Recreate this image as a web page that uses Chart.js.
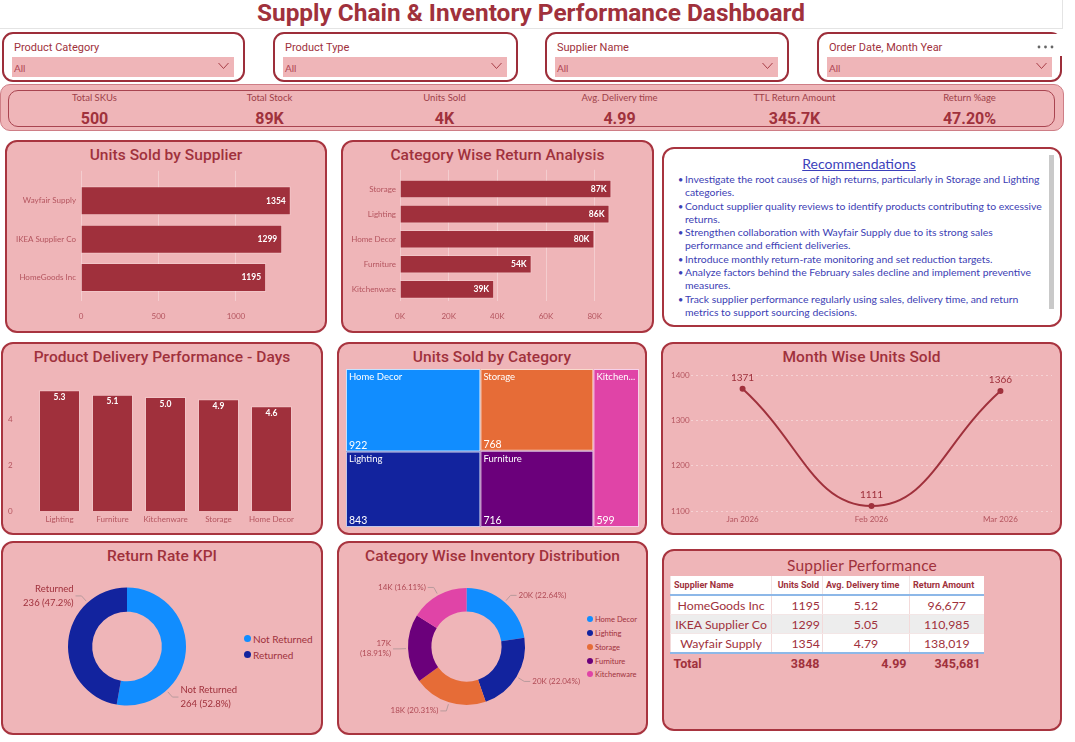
<!DOCTYPE html>
<html><head><meta charset="utf-8">
<script src="https://cdn.jsdelivr.net/npm/chart.js@4.4.1/dist/chart.umd.min.js"></script>
<style>
body{margin:0;width:1075px;height:742px;background:#fff;position:relative;overflow:hidden;font-family:Lato,"Liberation Sans",sans-serif;}
.abs{position:absolute;box-sizing:border-box;}
.panel{position:absolute;box-sizing:border-box;background:#EFB5B8;border:2px solid #A8343F;border-radius:12px;}
.ptitle{position:absolute;left:0;right:0;top:3px;text-align:center;font-family:Roboto,sans-serif;font-weight:500;color:#A0313C;font-size:15.5px;line-height:20px;letter-spacing:0.05px;white-space:nowrap;}
.filter{position:absolute;box-sizing:border-box;top:32px;height:50px;border:2px solid #9D2E3A;border-radius:11px;background:#fff;}
.flabel{position:absolute;left:10px;top:7px;font-family:Roboto,sans-serif;font-size:11px;line-height:14px;color:#A0313C;white-space:nowrap;}
.fdrop{position:absolute;left:8px;right:9px;top:23px;height:20px;background:#EFB5B8;}
.fdrop span{position:absolute;left:2px;top:4px;font-size:10px;line-height:14px;color:#B04553;}
.fdrop svg{position:absolute;right:5px;top:5px;}
.kpi{position:absolute;top:0;width:175px;text-align:center;}
.klab{position:absolute;left:0;right:0;top:2px;font-size:9.5px;line-height:12px;color:#9E3F49;}
.kval{position:absolute;left:0;right:0;top:19px;font-family:Roboto,sans-serif;font-weight:700;font-size:16px;line-height:20px;color:#A0313C;}
.rec{position:absolute;left:678px;top:173px;font-size:10.4px;line-height:13.3px;color:#3C40B4;white-space:nowrap;}
.rec div{height:13.3px;padding-left:7px;position:relative;}
.rec div.b::before{content:"\2022";position:absolute;left:0;top:0;font-size:9px;}
table.sp{position:absolute;left:670px;top:576px;width:313px;border-collapse:collapse;table-layout:fixed;}
table.sp th{height:18px;background:#fff;font-family:Roboto,sans-serif;font-weight:700;font-size:9px;color:#A0313C;padding:0 3px;border-left:1px solid #f0e4e4;border-bottom:2px solid #8DB8E8;white-space:nowrap;overflow:hidden;}
table.sp td{height:18px;font-size:12.3px;color:#A0313C;padding:0 2px;border-left:1px solid #f3dada;border-bottom:1px solid #f3e6e6;white-space:nowrap;overflow:hidden;}
table.sp tr.last td{border-bottom:2px solid #8DB8E8;}
table.sp tr.tot td{background:transparent;border:none;font-family:Roboto,sans-serif;font-weight:700;font-size:12.5px;height:18px;padding:0 3px;}
.leg{position:absolute;white-space:nowrap;color:#A0313C;}
.leg i{display:inline-block;border-radius:50%;vertical-align:middle;}
</style></head>
<body>
<div class="abs" style="left:0;top:0;width:1063px;height:29px;border-right:1px solid #e4e4e4;border-bottom:1px solid #e4e4e4;"></div>
<div class="abs" id="mainTitle" style="left:0;top:-1px;width:1062px;text-align:center;font-family:Roboto,sans-serif;font-weight:700;font-size:24.4px;line-height:28px;color:#A0313C;white-space:nowrap;">Supply Chain &amp; Inventory Performance Dashboard</div>
<div id="filters"></div>
<div class="abs" style="left:1032px;top:34px;width:30px;height:22px;background:#fff;"></div>
<svg class="abs" style="left:1034px;top:42px" width="24" height="10"><circle cx="5" cy="5" r="1.4" fill="#666"/><circle cx="11.5" cy="5" r="1.4" fill="#666"/><circle cx="18" cy="5" r="1.4" fill="#666"/></svg>

<div class="abs" style="left:0;top:84px;width:1064px;height:47px;background:#EFB5B8;border:1px solid #CE7E86;border-radius:10px;"></div>
<div class="abs" style="left:8px;top:90px;width:1047px;height:37px;border:1.5px solid #A94450;border-radius:10px;"></div>
<div class="abs" id="kpis" style="left:7px;top:90px;width:1050px;height:37px;"></div>

<div class="panel" style="left:5px;top:140px;width:322px;height:193px;"><div class="ptitle">Units Sold by Supplier</div></div>
<div class="panel" style="left:341px;top:140px;width:313px;height:193px;"><div class="ptitle">Category Wise Return Analysis</div></div>
<div class="panel" style="left:662px;top:147px;width:400px;height:180px;background:#fff;">
  <div style="position:absolute;left:0;right:6px;top:6px;text-align:center;font-size:14px;line-height:18px;color:#3C3FBB;text-decoration:underline;">Recommendations</div>
</div>
<div class="abs" style="left:1049px;top:155px;width:5px;height:154px;background:#C9C9C9;"></div>
<div class="rec" id="rec"></div>

<div class="panel" style="left:1px;top:342px;width:322px;height:193px;"><div class="ptitle">Product Delivery Performance - Days</div></div>
<div class="panel" style="left:337px;top:342px;width:310px;height:193px;"><div class="ptitle">Units Sold by Category</div></div>
<div class="panel" style="left:661px;top:342px;width:401px;height:193px;"><div class="ptitle">Month Wise Units Sold</div></div>

<div class="panel" style="left:1px;top:541px;width:322px;height:194px;"><div class="ptitle">Return Rate KPI</div></div>
<div class="panel" style="left:337px;top:541px;width:311px;height:194px;"><div class="ptitle">Category Wise Inventory Distribution</div></div>
<div class="panel" style="left:662px;top:549px;width:400px;height:182px;"><div class="ptitle" style="font-family:Lato,sans-serif;font-weight:400;font-size:15.5px;top:4px;letter-spacing:0.2px;">Supplier Performance</div></div>
<table class="sp" id="spTable"></table>
<div id="legKpi"></div>
<div id="legInv"></div>

<script>
// ================= DATA =================
const filterLabels = ['Product Category', 'Product Type', 'Supplier Name', 'Order Date, Month Year'];
const filterValue = 'All';
const kpiLabels = ['Total SKUs', 'Total Stock', 'Units Sold', 'Avg. Delivery time', 'TTL Return Amount', 'Return %age'];
const kpiValues = ['500', '89K', '4K', '4.99', '345.7K', '47.20%'];

const suppliers = ['Wayfair Supply', 'IKEA Supplier Co', 'HomeGoods Inc'];
const supplierUnits = [1354, 1299, 1195];

const returnCategories = ['Storage', 'Lighting', 'Home Decor', 'Furniture', 'Kitchenware'];
const returnAmounts = [86900, 86100, 79900, 54100, 38700];

const deliveryCategories = ['Lighting', 'Furniture', 'Kitchenware', 'Storage', 'Home Decor'];
const deliveryDays = [5.3, 5.1, 5.0, 4.9, 4.6];

const unitCategories = ['Home Decor', 'Lighting', 'Storage', 'Furniture', 'Kitchenware'];
const unitsByCategory = [922, 843, 768, 716, 599];

const months = ['Jan 2026', 'Feb 2026', 'Mar 2026'];
const monthUnits = [1371, 1111, 1366];

const returnStatus = ['Not Returned', 'Returned'];
const returnCounts = [264, 236];

const stockCategories = ['Home Decor', 'Lighting', 'Storage', 'Furniture', 'Kitchenware'];
const stockUnits = [20116, 19583, 18045, 16802, 14314];

const recommendations = [
  'Investigate the root causes of high returns, particularly in Storage and Lighting\ncategories.',
  'Conduct supplier quality reviews to identify products contributing to excessive\nreturns.',
  'Strengthen collaboration with Wayfair Supply due to its strong sales\nperformance and efficient deliveries.',
  'Introduce monthly return-rate monitoring and set reduction targets.',
  'Analyze factors behind the February sales decline and implement preventive\nmeasures.',
  'Track supplier performance regularly using sales, delivery time, and return\nmetrics to support sourcing decisions.'
];

const tableHeaders = ['Supplier Name', 'Units Sold', 'Avg. Delivery time', 'Return Amount'];
const tableSuppliers = ['HomeGoods Inc', 'IKEA Supplier Co', 'Wayfair Supply'];
const tableUnits = [1195, 1299, 1354];
const tableDelivery = [5.12, 5.05, 4.79];
const tableReturns = [96677, 110985, 138019];
const tableTotals = ['Total', '3848', '4.99', '345,681'];

// ================= STYLE =================
const C_DARK = '#A0313C';
const C_BAR = '#A0303C';
const C_AXIS = '#B4545E';
const GRID = 'rgba(255,255,255,0.33)';
const catColors = {'Home Decor':'#118DFF','Lighting':'#12239E','Storage':'#E66C37','Furniture':'#6B007B','Kitchenware':'#E044A7'};
const statusColors = {'Not Returned':'#118DFF','Returned':'#12239E'};
Chart.defaults.font.family = 'Lato, "Liberation Sans", sans-serif';
Chart.defaults.color = C_AXIS;

// ================= HTML parts =================
const filterBoxes = [[2,243],[273,245],[545,244],[817,245]];
document.getElementById('filters').innerHTML = filterLabels.map((l,i)=>
  `<div class="filter" style="left:${filterBoxes[i][0]}px;width:${filterBoxes[i][1]}px"><div class="flabel">${l}</div>
   <div class="fdrop"${i===3?' style="right:8px"':''}><span>${filterValue}</span><svg width="11" height="8" viewBox="0 0 11 8"><polyline points="0.5,1 5.5,6.5 10.5,1" fill="none" stroke="#A0313C" stroke-width="0.9"/></svg></div></div>`).join('');
document.getElementById('kpis').innerHTML = kpiLabels.map((l,i)=>
  `<div class="kpi" style="left:${i*175}px"><div class="klab">${l}</div><div class="kval">${kpiValues[i]}</div></div>`).join('');
document.getElementById('rec').innerHTML = recommendations.map(r=>r.split('\n').map((ln,k)=>`<div class="${k===0?'b':''}">${ln}</div>`).join('')).join('');

const fmt = n => n.toLocaleString('en-US');
let th = '<colgroup><col style="width:101px"><col style="width:51px"><col style="width:87px"><col style="width:74px"></colgroup>';
th += '<tr>' + tableHeaders.map((h,i)=>`<th style="text-align:${i===1?'right':'left'}">${h}</th>`).join('') + '</tr>';
tableSuppliers.forEach((s,i)=>{
  th += `<tr class="${i===tableSuppliers.length-1?'last':''}" style="background:${i%2===1?'#EDEDED':'#fff'}">
    <td style="text-align:center">${s}</td><td style="text-align:right">${tableUnits[i]}</td>
    <td style="text-align:center">${tableDelivery[i].toFixed(2)}</td><td style="text-align:center">${fmt(tableReturns[i])}</td></tr>`;
});
th += '<tr class="tot">' + tableTotals.map((t,i)=>`<td style="text-align:${i===0?'left':'right'}">${t}</td>`).join('') + '</tr>';
document.getElementById('spTable').innerHTML = th;

function legend(id, names, colors, x, y0, dy, fs, dot) {
  document.getElementById(id).innerHTML = names.map((n,i)=>
    `<div class="leg" style="left:${x}px;top:${y0+i*dy - fs*0.65}px;font-size:${fs}px;line-height:${fs*1.3}px"><i style="width:${dot}px;height:${dot}px;background:${colors[n]};margin-right:2px;margin-top:-2px"></i>${n}</div>`).join('');
}
legend('legKpi', returnStatus, statusColors, 244, 639, 16, 10, 7);
legend('legInv', stockCategories, catColors, 587, 620, 13.8, 7.5, 6);

// ================= helpers =================
function mk(x,y,w,h){const c=document.createElement('canvas');c.width=w;c.height=h;c.style.cssText=`position:absolute;left:${x}px;top:${y}px;width:${w}px;height:${h}px`;document.body.appendChild(c);return c.getContext('2d');}
const stepTicks = step => s => { const t = []; for (let v = Math.ceil(s.min/step)*step; v <= s.max + 1e-9; v += step) t.push({value: +v.toFixed(6)}); s.ticks = t; };
// linear index axis for horizontal bars (lets the band sit inside a taller grid area)
const bandAxis = (labels, lo, hi, pad, width) => ({
  type:'linear', min:lo, max:hi, reverse:true, offset:false, border:{display:false}, grid:{display:false, drawTicks:false, offset:false},
  afterBuildTicks:s=>{ s.ticks = labels.map((l,i)=>({value:i})); },
  ticks:{padding:pad, color:C_AXIS, font:{size:8}, autoSkip:false, callback:v=>labels[v]},
  afterFit:s=>{ s.width = width; }
});

const barLabels = {
  id:'barLabels',
  afterDatasetsDraw(chart, args, o){
    const ctx = chart.ctx, meta = chart.getDatasetMeta(0), ds = chart.data.datasets[0];
    ctx.save(); ctx.font = o.font; ctx.fillStyle = o.color;
    meta.data.forEach((el,i)=>{
      const d = ds.data[i]; const v = typeof d === 'object' ? d.x : d;
      const txt = o.kilo ? Math.round(v/1000)+'K' : (o.decimals!=null ? v.toFixed(o.decimals) : String(v));
      if (chart.options.indexAxis === 'y') { ctx.textAlign='right'; ctx.textBaseline='middle'; ctx.fillText(txt, el.x - o.offset, el.y); }
      else { ctx.textAlign='center'; ctx.textBaseline='middle'; ctx.fillText(txt, el.x, el.y + o.offset); }
    });
    ctx.restore();
  }
};
const pointLabels = {
  id:'pointLabels',
  afterDatasetsDraw(chart, args, o){
    const ctx = chart.ctx, meta = chart.getDatasetMeta(0), ds = chart.data.datasets[0];
    ctx.save(); ctx.font = o.font; ctx.fillStyle = o.color; ctx.textAlign='center'; ctx.textBaseline='middle';
    meta.data.forEach((el,i)=> ctx.fillText(String(ds.data[i].y), el.x, el.y - o.offset));
    ctx.restore();
  }
};
const donutLabels = {
  id:'donutLabels',
  afterDatasetsDraw(chart, args, o){
    const ctx = chart.ctx, meta = chart.getDatasetMeta(0), ds = chart.data.datasets[0];
    const total = ds.data.reduce((a,b)=>a+b,0);
    ctx.save(); ctx.font = o.font; ctx.lineWidth = 1; ctx.strokeStyle = o.lineColor; ctx.fillStyle = o.color; ctx.textBaseline='middle';
    meta.data.forEach((arc,i)=>{
      const a = (arc.startAngle + arc.endAngle)/2 + (o.shift||0)*Math.PI/180;
      const r = arc.outerRadius, cx = arc.x, cy = arc.y;
      const c = Math.cos(a), s = Math.sin(a), right = c >= 0;
      const p0 = [cx + c*(r+2), cy + s*(r+2)], p1 = [cx + c*(r+o.elbow), cy + s*(r+o.elbow)];
      const p2 = [p1[0] + (right ? o.tail : -o.tail), p1[1]];
      ctx.beginPath(); ctx.moveTo(p0[0],p0[1]); ctx.lineTo(p1[0],p1[1]); ctx.lineTo(p2[0],p2[1]); ctx.stroke();
      const v = ds.data[i], pct = v/total*100;
      let lines;
      if (o.mode === 'name') lines = [chart.data.labels[i], `${v} (${pct.toFixed(1)}%)`];
      else {
        const t = `${Math.round(v/1000)}K (${pct.toFixed(2)}%)`;
        const tx = p2[0] + (right?2:-2);
        const avail = right ? chart.width - tx : tx;
        lines = ctx.measureText(t).width > avail - 2 ? [`${Math.round(v/1000)}K`, `(${pct.toFixed(2)}%)`] : [t];
      }
      ctx.textAlign = right ? 'left' : 'right';
      const lh = o.lineHeight, y0 = p2[1] - (lines.length-1)*lh/2;
      lines.forEach((ln,k)=> ctx.fillText(ln, p2[0] + (right?2:-2), y0 + k*lh));
    });
    ctx.restore();
  }
};
function squarify(values, x, y, w, h){
  const total = values.reduce((a,b)=>a+b,0), sc = w*h/total;
  const areas = values.map(v=>v*sc), rects = [];
  let i = 0;
  while (i < areas.length){
    const side = Math.min(w,h);
    const worst = r => { const s=r.reduce((a,b)=>a+b,0); return Math.max(side*side*Math.max(...r)/(s*s), s*s/(side*side*Math.min(...r))); };
    const row = [areas[i]]; let j = i+1;
    while (j < areas.length && worst([...row, areas[j]]) <= worst(row)) { row.push(areas[j]); j++; }
    const s = row.reduce((a,b)=>a+b,0);
    if (w >= h){ const cw = s/h; let yy = y; row.forEach(a=>{ const ch=a/cw; rects.push({x,y:yy,w:cw,h:ch}); yy+=ch; }); x+=cw; w-=cw; }
    else { const rh = s/w; let xx = x; row.forEach(a=>{ const rw=a/rh; rects.push({x:xx,y,w:rw,h:rh}); xx+=rw; }); y+=rh; h-=rh; }
    i = j;
  }
  return rects;
}
const treemap = {
  id:'treemap',
  afterDatasetsDraw(chart, args, o){
    const {ctx, chartArea: ca, scales:{x, y}} = chart;
    const aspect = ca.width/ca.height;
    const order = unitsByCategory.map((v,i)=>i).sort((a,b)=>unitsByCategory[b]-unitsByCategory[a]);
    const rects = squarify(order.map(i=>unitsByCategory[i]), 0, 0, aspect, 1);
    ctx.save();
    rects.forEach((r,k)=>{
      const idx = order[k];
      const x0 = x.getPixelForValue(r.x/aspect), x1 = x.getPixelForValue((r.x+r.w)/aspect);
      const y0 = y.getPixelForValue(r.y), y1 = y.getPixelForValue(r.y+r.h);
      ctx.fillStyle = catColors[unitCategories[idx]];
      ctx.fillRect(x0, y0, x1-x0, y1-y0);
      ctx.strokeStyle = 'rgba(255,255,255,0.75)'; ctx.lineWidth = 1;
      ctx.strokeRect(x0+0.5, y0+0.5, x1-x0-1, y1-y0-1);
      ctx.fillStyle = '#fff'; ctx.textAlign = 'left';
      ctx.font = o.nameFont;
      let name = unitCategories[idx];
      if (ctx.measureText(name).width > x1-x0-6) { while (name.length>1 && ctx.measureText(name+'...').width > x1-x0-6) name = name.slice(0,-1); name += '...'; }
      ctx.textBaseline = 'top'; ctx.fillText(name, x0+3, y0+3);
      ctx.font = o.valueFont; ctx.textBaseline = 'bottom'; ctx.fillText(String(unitsByCategory[idx]), x0+3, y1-1);
    });
    ctx.restore();
  }
};
const noPlug = {legend:{display:false}, tooltip:{enabled:false}};
const axisFont = {size:8};

// ============ Units Sold by Supplier ============
new Chart(mk(8,161,315,170), {
  type:'bar',
  data:{datasets:[{data:suppliers.map((s,i)=>({x:supplierUnits[i], y:i})), backgroundColor:C_BAR, borderColor:'rgba(255,255,255,0.22)', borderWidth:1, barPercentage:0.758, categoryPercentage:1}]},
  options:{indexAxis:'y', responsive:false, animation:false, layout:{padding:{top:0,right:22,bottom:0,left:0}},
    plugins:{...noPlug, barLabels:{font:'bold 8.5px Lato', color:'#fff', offset:5}},
    scales:{
      x:{type:'linear', min:0, max:1420, border:{display:false}, grid:{color:GRID, drawTicks:false}, afterBuildTicks:stepTicks(500), ticks:{padding:10.2, color:C_AXIS, font:axisFont, callback:v=>String(v)}},
      y:bandAxis(suppliers, -0.784, 2.614, 5, 73)
    }},
  plugins:[barLabels]
});

// ============ Category Wise Return Analysis ============
new Chart(mk(344,161,306,170), {
  type:'bar',
  data:{datasets:[{data:returnCategories.map((c,i)=>({x:returnAmounts[i], y:i})), backgroundColor:C_BAR, borderColor:'rgba(255,255,255,0.22)', borderWidth:1, barPercentage:0.74, categoryPercentage:1}]},
  options:{indexAxis:'y', responsive:false, animation:false, layout:{padding:{top:0,right:31,bottom:0,left:0}},
    plugins:{...noPlug, barLabels:{font:'bold 8.5px Lato', color:'#fff', offset:5, kilo:true}},
    scales:{
      x:{type:'linear', min:0, max:90000, border:{display:false}, grid:{color:GRID, drawTicks:false}, afterBuildTicks:stepTicks(20000), ticks:{padding:10.2, color:C_AXIS, font:axisFont, callback:v=>(v/1000)+'K'}},
      y:bandAxis(returnCategories, -0.765, 4.463, 4, 56)
    }},
  plugins:[barLabels]
});

// ============ Product Delivery Performance ============
new Chart(mk(8,371,295,156), {
  type:'bar',
  data:{labels:deliveryCategories, datasets:[{data:deliveryDays, backgroundColor:C_BAR, borderColor:'rgba(255,255,255,0.22)', borderWidth:1, barPercentage:0.774, categoryPercentage:1}]},
  options:{responsive:false, animation:false, layout:{padding:{top:0,right:5,bottom:0,left:0}},
    plugins:{...noPlug, barLabels:{font:'bold 8.5px Lato', color:'#fff', offset:7, decimals:1}},
    scales:{
      x:{border:{display:false}, grid:{display:false, drawTicks:false}, ticks:{padding:3.2, color:C_AXIS, font:axisFont}},
      y:{min:0, max:5.8, border:{display:false}, grid:{display:false, drawTicks:false}, afterBuildTicks:stepTicks(2), ticks:{padding:3, crossAlign:'far', color:C_AXIS, font:axisFont, callback:v=>String(v)}, afterFit:s=>{s.width=25;}}
    }},
  plugins:[barLabels]
});

// ============ Units Sold by Category (treemap) ============
new Chart(mk(346,369,293,158), {
  type:'scatter',
  data:{datasets:[{data:[]}]},
  options:{responsive:false, animation:false, layout:{padding:0},
    plugins:{...noPlug, treemap:{nameFont:'9.5px Lato', valueFont:'10.5px Lato'}},
    scales:{x:{display:false, min:0, max:1}, y:{display:false, min:0, max:1, reverse:true}}},
  plugins:[treemap]
});

// ============ Month Wise Units Sold ============
new Chart(mk(671,363,385,164), {
  type:'line',
  data:{datasets:[{data:months.map((m,i)=>({x:i, y:monthUnits[i]})), borderColor:C_DARK, backgroundColor:C_DARK, borderWidth:2, tension:0.45, pointRadius:3, pointBackgroundColor:C_DARK, pointBorderWidth:0}]},
  options:{responsive:false, animation:false, layout:{padding:{top:0,right:3,bottom:0,left:0}},
    plugins:{...noPlug, pointLabels:{font:'10px Lato', color:'#A0313C', offset:11}},
    scales:{
      x:{type:'linear', min:-0.4, max:2.4, border:{display:false}, grid:{display:false, drawTicks:false},
         afterBuildTicks:s=>{s.ticks = months.map((m,i)=>({value:i}));},
         ticks:{padding:3.2, color:C_AXIS, font:axisFont, callback:v=>months[v]}},
      y:{min:1100, max:1411, border:{display:false, dash:[2,3]}, grid:{color:'rgba(255,255,255,0.4)', drawTicks:false},
         afterBuildTicks:stepTicks(100),
         ticks:{padding:3, crossAlign:'far', color:C_AXIS, font:axisFont, callback:v=>String(v)}, afterFit:s=>{s.width=20;}}
    }},
  plugins:[pointLabels]
});

// ============ Return Rate KPI ============
new Chart(mk(20,570,220,160), {
  type:'doughnut',
  data:{labels:returnStatus, datasets:[{data:returnCounts, backgroundColor:returnStatus.map(n=>statusColors[n]), borderWidth:0}]},
  options:{responsive:false, animation:false, cutout:'59%', layout:{padding:{left:48,right:54,top:17.5,bottom:24.5}},
    plugins:{...noPlug, donutLabels:{mode:'name', font:'9.5px Lato', color:'#A0313C', lineColor:'#B89A9C', elbow:9, tail:6, shift:43, lineHeight:13.5}}},
  plugins:[donutLabels]
});

// ============ Category Wise Inventory Distribution ============
new Chart(mk(345,575,240,150), {
  type:'doughnut',
  data:{labels:stockCategories, datasets:[{data:stockUnits, backgroundColor:stockCategories.map(n=>catColors[n]), borderWidth:0}]},
  options:{responsive:false, animation:false, cutout:'60%', layout:{padding:{left:63,right:60,top:13,bottom:20}},
    plugins:{...noPlug, donutLabels:{mode:'k', font:'8px Lato', color:'#B04A55', lineColor:'#B89A9C', elbow:9, tail:6, shift:0, lineHeight:10}}},
  plugins:[donutLabels]
});
</script>
</body></html>
